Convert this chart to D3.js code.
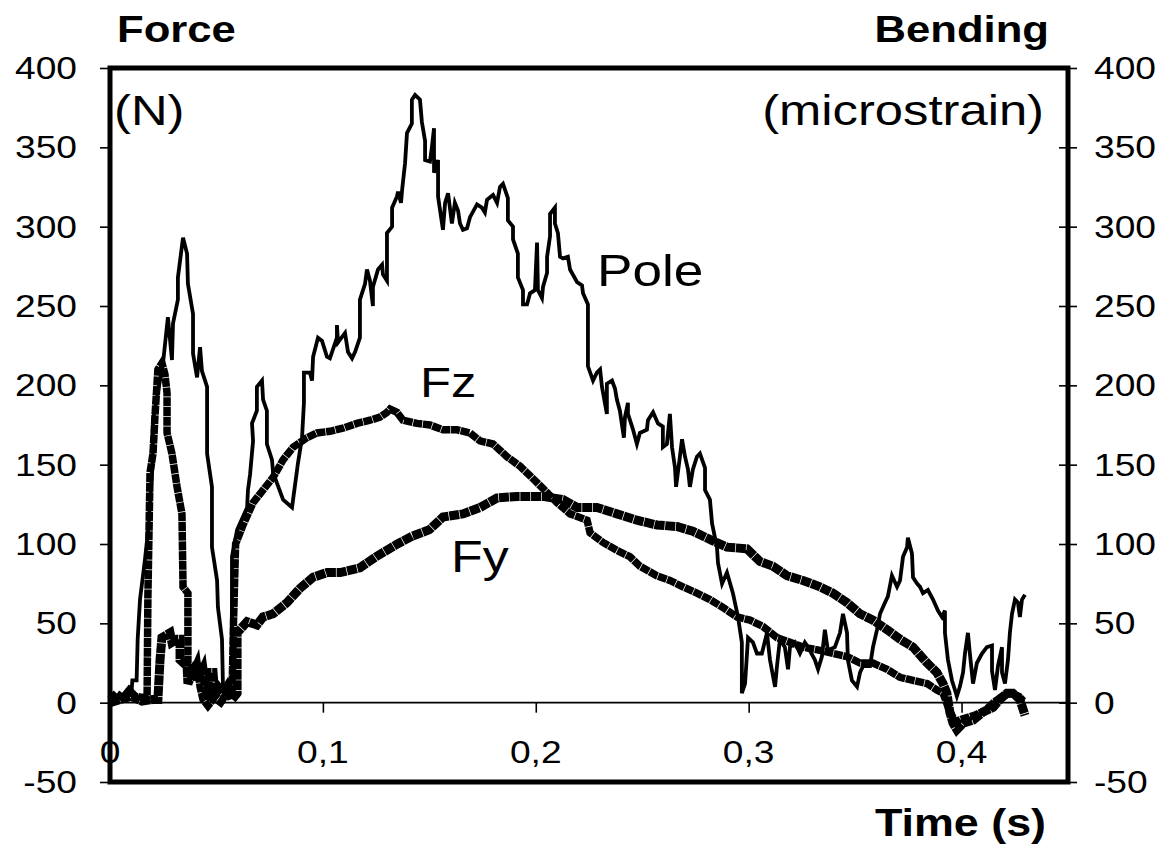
<!DOCTYPE html>
<html>
<head>
<meta charset="utf-8">
<script src="https://cdn.jsdelivr.net/npm/d3@7"></script>
<style>
  html, body { margin: 0; padding: 0; background: #fff; }
  svg { display: block; }
  text { font-family: "Liberation Sans", Arial, sans-serif; fill: #000; }
</style>
</head>
<body>
<svg id="chart" width="1165" height="850"></svg>
<script>
// Pole bending (microstrain) against time (s)
const pole = [
  [0,0],[0.004,3],[0.008,5],[0.010,5],[0.0105,14],[0.0125,14],[0.013,40],[0.0141,65],[0.0164,90],
  [0.018,110],[0.020,150],[0.0202,178],[0.0249,214],[0.0272,243],[0.0291,216],[0.0296,239],[0.0319,254],
  [0.0319,268],[0.0343,293],[0.0362,283],[0.0366,264],[0.039,245],[0.039,220],[0.0409,205],[0.0423,224],
  [0.0432,209],[0.0456,199],[0.0456,157],[0.0479,136],[0.0479,98],[0.0503,77],[0.0507,60],[0.0526,40],
  [0.0531,8],[0.054,3],[0.0573,14],[0.0573,92],[0.0587,102],[0.0597,109],[0.0644,123],[0.0648,134],
  [0.0658,144],[0.0672,165],[0.0667,176],[0.069,184],[0.069,199],[0.0714,203],[0.0719,191],[0.0737,184],
  [0.0737,163],[0.0761,153],[0.0766,145],[0.0813,128],[0.0855,123],[0.0883,151],[0.0902,167],[0.0911,189],
  [0.0911,208],[0.0939,208],[0.0949,203],[0.0954,218],[0.0977,230],[0.0996,228],[0.1019,218],[0.1033,217],
  [0.1066,230],[0.1066,238],[0.1071,227],[0.1104,233],[0.1118,221],[0.1137,217],[0.1151,221],[0.1174,230],
  [0.1174,254],[0.1198,264],[0.1207,273],[0.1221,266],[0.1235,250],[0.1235,262],[0.1259,273],[0.1278,276],
  [0.1282,270],[0.1301,266],[0.1301,296],[0.1325,300],[0.1325,312],[0.1348,319],[0.1353,322],[0.1367,315],
  [0.1372,323],[0.1386,340],[0.1395,359],[0.1418,365],[0.1418,380],[0.1433,383],[0.1456,380],[0.1465,366],
  [0.148,354],[0.148,342],[0.1503,341],[0.1512,350],[0.1522,362],[0.1522,334],[0.1541,342],[0.1541,319],
  [0.1564,298],[0.1574,315],[0.1588,321],[0.1606,302],[0.162,315],[0.1635,310],[0.1644,302],[0.1658,298],
  [0.1677,299],[0.1691,306],[0.1724,314],[0.1747,312],[0.1761,309],[0.1771,317],[0.1799,320],[0.1818,315],
  [0.1832,325],[0.1846,327],[0.1869,318],[0.1869,304],[0.1893,300],[0.1893,292],[0.1916,283],[0.1916,268],
  [0.194,260],[0.194,251],[0.1959,251],[0.1973,258],[0.1996,260],[0.2006,290],[0.201,260],[0.2029,255],
  [0.2034,262],[0.2053,271],[0.2053,281],[0.2067,294],[0.2067,308],[0.209,312],[0.209,302],[0.2104,296],
  [0.2114,281],[0.2128,280],[0.2151,281],[0.2161,273],[0.2194,265],[0.2217,263],[0.2222,258],[0.2245,251],
  [0.2245,228],[0.2245,212],[0.2269,203],[0.2287,208],[0.2302,210],[0.2311,199],[0.2334,182],[0.2334,201],
  [0.2358,203],[0.2372,198],[0.2381,191],[0.2395,184],[0.2414,167],[0.2419,180],[0.2433,189],[0.2433,182],
  [0.2457,172],[0.2475,163],[0.2489,170],[0.2522,172],[0.2527,178],[0.2551,183],[0.2574,176],[0.2597,174],
  [0.2597,161],[0.2616,163],[0.263,182],[0.264,161],[0.2654,148],[0.2659,136],[0.2677,155],[0.2687,166],
  [0.2701,155],[0.2715,147],[0.2724,136],[0.2738,147],[0.2757,155],[0.2771,157],[0.2795,148],[0.2795,134],
  [0.2818,128],[0.2828,113],[0.2851,98],[0.2856,88],[0.2875,75],[0.2898,82],[0.2926,69],[0.295,54],
  [0.2968,38],[0.2968,6],[0.2983,12],[0.2997,41],[0.302,38],[0.3039,31],[0.3062,31],[0.3086,44],[0.31,27],
  [0.3124,10],[0.3133,23],[0.3147,40],[0.317,35],[0.3185,21],[0.3194,35],[0.3217,38],[0.3241,31],[0.3264,38],
  [0.3279,35],[0.3311,27],[0.3326,21],[0.3344,29],[0.3358,46],[0.3372,33],[0.3405,35],[0.3429,44],[0.3443,56],
  [0.3462,44],[0.3466,27],[0.3485,14],[0.3509,10],[0.3523,19],[0.3537,23],[0.357,23],[0.3584,35],[0.3603,46],
  [0.3617,56],[0.364,63],[0.3654,67],[0.3673,80],[0.3697,73],[0.3711,77],[0.3725,92],[0.3744,98],[0.3748,104],
  [0.3767,94],[0.3772,79],[0.3791,75],[0.3805,73],[0.3819,69],[0.3842,71],[0.3866,65],[0.3889,58],[0.3908,54],
  [0.3922,58],[0.3922,44],[0.3936,27],[0.3955,14],[0.3969,8],[0.3978,4],[0.3992,10],[0.4007,19],[0.4016,31],
  [0.403,44],[0.4039,31],[0.4054,12],[0.4072,25],[0.4096,31],[0.4119,35],[0.4143,36],[0.4143,20],[0.4157,8],
  [0.4171,23],[0.419,35],[0.419,19],[0.4204,12],[0.4218,27],[0.4227,44],[0.4237,56],[0.4251,65],[0.4265,63],
  [0.4274,54],[0.4284,65],[0.4298,68]
];

// Vertical force Fz (N) against time (s)
const fz = [
  [0,2],[0.003,6],[0.006,3],[0.009,8],[0.012,4],[0.0165,3],[0.0174,0],[0.0178,67],[0.0188,145],[0.0202,157],
  [0.0211,180],[0.0225,210],[0.0244,214],[0.0258,207],[0.0268,195],[0.0268,170],[0.0291,157],[0.0315,136],
  [0.0338,119],[0.0343,73],[0.0366,69],[0.0366,25],[0.039,19],[0.0409,25],[0.0423,10],[0.0437,2],[0.046,-2],
  [0.049,3],[0.052,0],[0.054,4],[0.0573,5],[0.058,50],[0.059,100],[0.0625,112],[0.0672,126],[0.0719,134],
  [0.0766,142],[0.0813,153],[0.086,161],[0.0925,167],[0.0972,170],[0.1033,171],[0.1094,173],[0.116,176],
  [0.1221,178],[0.1268,180],[0.1301,183],[0.1315,185],[0.1348,183],[0.1376,178],[0.1442,176],[0.1503,175],
  [0.1564,172],[0.163,172],[0.1691,170],[0.1738,165],[0.1799,163],[0.1865,155],[0.1926,149],[0.1973,143],
  [0.2034,135],[0.21,126],[0.2161,119],[0.2241,115],[0.2255,107],[0.2316,101],[0.2381,96],[0.2442,92],
  [0.2489,86],[0.2569,80],[0.263,77],[0.2691,73],[0.2757,69],[0.2818,65],[0.2879,60],[0.2945,54],[0.3006,52],
  [0.3067,48],[0.3133,41],[0.3194,38],[0.3255,35],[0.3335,33],[0.3396,31],[0.3462,29],[0.3523,25],[0.3584,25],
  [0.365,21],[0.3711,16],[0.3772,14],[0.3838,12],[0.3884,8],[0.3913,6],[0.394,-4],[0.397,-12],[0.401,-10],
  [0.406,-8],[0.411,-5],[0.415,0],[0.419,4],[0.423,6],[0.427,4],[0.429,1]
];

// Horizontal force Fy (N) against time (s)
const fy = [
  [0,0],[0.005,2],[0.01,4],[0.015,1],[0.02,2],[0.0225,2],[0.0235,27],[0.0244,41],[0.0282,44],[0.0291,38],
  [0.0315,40],[0.0329,40],[0.0329,27],[0.0362,23],[0.0366,12],[0.0409,25],[0.0413,14],[0.0437,21],[0.0456,2],
  [0.047,19],[0.0484,19],[0.0493,4],[0.0507,10],[0.0531,6],[0.055,10],[0.0573,2],[0.0597,6],[0.0597,44],
  [0.0644,51],[0.069,49],[0.0719,54],[0.0766,56],[0.0831,63],[0.0892,72],[0.0954,79],[0.1019,82],[0.1081,82],
  [0.1174,85],[0.125,92],[0.135,100],[0.142,105],[0.150,109],[0.1564,117],[0.1658,119],[0.1738,123],
  [0.1818,129],[0.1912,130],[0.2034,130],[0.2128,128],[0.2194,123],[0.2287,123],[0.2381,119],[0.2475,115],
  [0.2569,112],[0.2663,111],[0.2738,108],[0.2832,102],[0.2898,98],[0.2992,97],[0.3053,89],[0.3114,86],
  [0.318,80],[0.3255,77],[0.3335,73],[0.3396,69],[0.3462,63],[0.3523,56],[0.3584,52],[0.365,46],[0.3711,40],
  [0.3772,35],[0.3838,25],[0.3884,19],[0.3913,12],[0.3931,6],[0.3945,-6],[0.396,-13],[0.3978,-17],
  [0.4007,-13],[0.4054,-11],[0.41,-6],[0.4148,-3],[0.418,2],[0.4213,6],[0.4241,6],[0.4274,2],[0.4298,-8]
];

const forceTicks = [-50, 0, 50, 100, 150, 200, 250, 300, 350, 400];
const timeTicks = [0, 0.1, 0.2, 0.3, 0.4];

const svg = d3.select("#chart");
const SX = 1.18;           // horizontal stretch applied to all lettering
const plotL = 110, plotR = 1068, plotT = 68, plotB = 782;

const x = d3.scaleLinear().domain([0, 0.45]).range([plotL, plotR]);
const y = d3.scaleLinear().domain([-50, 400]).range([plotB, plotT]);

function label(txt, px, py, size, anchor, weight) {
  return svg.append("text")
    .attr("transform", `translate(${px},${py}) scale(${SX},1)`)
    .attr("text-anchor", anchor)
    .attr("font-size", size)
    .attr("font-weight", weight || "normal")
    .text(txt);
}

// Left force axis: outside ticks
const gl = svg.append("g").attr("transform", `translate(${plotL},0)`)
  .call(d3.axisLeft(y).tickValues(forceTicks).tickSize(10).tickFormat(""));
// Right bending axis: ticks crossing the frame
const gr = svg.append("g").attr("transform", `translate(${plotR},0)`)
  .call(d3.axisRight(y).tickValues(forceTicks).tickSize(9).tickFormat(""));
gr.selectAll(".tick line").attr("x1", -9);
// Time axis along zero
const gx = svg.append("g").attr("transform", `translate(0,${y(0)})`)
  .call(d3.axisBottom(x).tickValues(timeTicks).tickSize(10).tickFormat(""));
gx.select(".domain").attr("d", `M${plotL},0H${plotR}`);

[gl, gr, gx].forEach(g => {
  g.selectAll("line").attr("stroke", "#000").attr("stroke-width", 1.6);
  g.select(".domain").attr("stroke", "#000").attr("stroke-width", 1.6);
});
gl.select(".domain").remove();
gr.select(".domain").remove();

// Tick labels
forceTicks.forEach(v => {
  label(String(v), 77, y(v) + 11, 31.5, "end");
  label(String(v), 1094, y(v) + 11, 31.5, "start");
});
timeTicks.forEach(v => {
  label(String(v).replace(".", ","), x(v), 763, 31.5, "middle");
});

// Series: thin pole trace, thick beaded force traces
const line = d3.line().x(d => x(d[0])).y(d => y(d[1]));
svg.append("path").datum(pole).attr("d", line)
  .attr("fill", "none").attr("stroke", "#000").attr("stroke-width", 3.8)
  .attr("stroke-linejoin", "miter");
svg.append("path").datum(fz).attr("d", line)
  .attr("fill", "none").attr("stroke", "#000").attr("stroke-width", 7.5)
  .attr("stroke-dasharray", "9 0.7")
  .attr("stroke-linejoin", "miter");
svg.append("path").datum(fy).attr("d", line)
  .attr("fill", "none").attr("stroke", "#000").attr("stroke-width", 9)
  .attr("stroke-dasharray", "10 0.7")
  .attr("stroke-linejoin", "miter");

// Plot frame
svg.append("rect")
  .attr("x", plotL).attr("y", plotT)
  .attr("width", plotR - plotL).attr("height", plotB - plotT)
  .attr("fill", "none").attr("stroke", "#000").attr("stroke-width", 5);

// Titles and series names
label("Force", 117, 42, 37, "start", "bold");
label("Bending", 1049, 42, 37, "end", "bold");
label("(N)", 114, 125, 43, "start");
label("(microstrain)", 1044, 125, 43, "end");
label("Pole", 597, 286, 45, "start");
label("Fz", 420, 397, 43, "start");
label("Fy", 451, 572, 44, "start");
label("Time (s)", 1046, 836, 38, "end", "bold");
</script>
</body>
</html>
